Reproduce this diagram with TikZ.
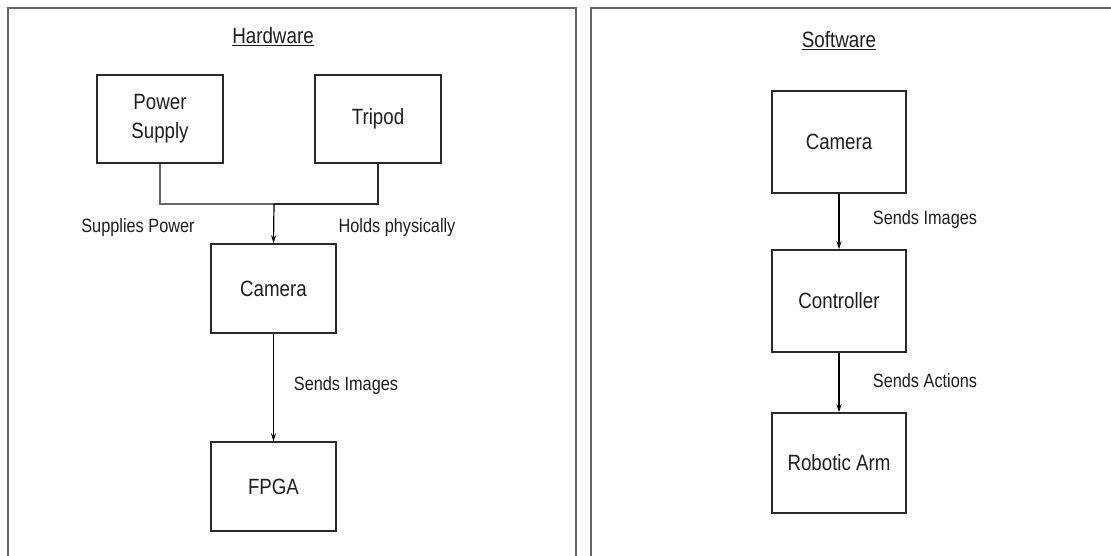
\documentclass[tikz,border=0pt]{standalone}
\usepackage{fontspec}
\setmainfont{Liberation Sans}
\usetikzlibrary{arrows.meta}
\definecolor{frame}{HTML}{666666}
\definecolor{edge}{HTML}{2A2A2A}
\definecolor{ink}{HTML}{1E1E1E}
\newcommand\tall[1]{\scalebox{1}[1.18]{#1}}
\tikzset{
  stepbox/.style={draw=edge, line width=1.5pt, minimum width=126pt, inner sep=0pt,
    text=ink, font=\fontsize{18.7}{22}\selectfont},
  flowlbl/.style={text=ink, inner sep=0pt, font=\fontsize{16.3}{19}\selectfont},
  titlelbl/.style={text=ink, inner sep=0pt, font=\fontsize{18.8}{22}\selectfont},
  panel/.style={draw=frame, line width=2pt},
  feed/.style={draw=frame, line width=1.3pt},
  flow/.style={draw=black, line width=1.2pt, -{Stealth[length=8pt,width=5pt]}}
}
\begin{document}
\begin{tikzpicture}[x=1pt, y=-1pt]
\useasboundingbox (0,0) rectangle (1111,555);
\fill[white] (0,0) rectangle (1111,555);

% panel frames
\draw[panel] (8,556) -- (8,8) -- (576,8) -- (576,556);
\draw[panel] (591,556) -- (591,8) -- (1112,8);

% hardware panel
\node[titlelbl] (hwt) at (273,37) {\tall{\underline{Hardware}}};
\node[stepbox, minimum height=88pt] (ps) at (160,119) {\tall{\begin{tabular}{@{}c@{}}Power\\[3pt]Supply\end{tabular}}};
\node[stepbox, minimum height=88pt] (tr) at (378,119) {\tall{Tripod}};
\node[stepbox, minimum width=125pt, minimum height=89pt] (hcam) at (273.5,288.5) {\tall{Camera}};
\node[stepbox, minimum width=125pt, minimum height=89pt] (fpga) at (273.5,486.5) {\tall{FPGA}};
\coordinate (j) at (274,204);
\draw[feed] (ps.south) |- (j);
\draw[feed, draw=edge] (tr.south) |- (j);
\draw[flow] (j) -- (hcam.north);
\draw[flow] (hcam.south) -- (fpga.north);
\node[flowlbl] (lps) at (138,228) {\tall{Supplies Power}};
\node[flowlbl] (ltr) at (397,228) {\tall{Holds physically}};
\node[flowlbl] (lhi) at (346,386) {\tall{Sends Images}};

% software panel
\node[titlelbl] (swt) at (839,41) {\tall{\underline{Software}}};
\node[stepbox, minimum width=134pt, minimum height=102pt] (scam) at (839,142) {\tall{Camera}};
\node[stepbox, minimum width=134pt, minimum height=102pt] (ctl) at (839,301) {\tall{Controller}};
\node[stepbox, minimum width=134pt, minimum height=100pt] (arm) at (839,463) {\tall{Robotic Arm}};
\draw[flow] (scam.south) -- (ctl.north);
\draw[flow] (ctl.south) -- (arm.north);
\node[flowlbl] (lsi) at (925,220) {\tall{Sends Images}};
\node[flowlbl] (lsa) at (925,381) {\tall{Sends Actions}};
\end{tikzpicture}
\end{document}
